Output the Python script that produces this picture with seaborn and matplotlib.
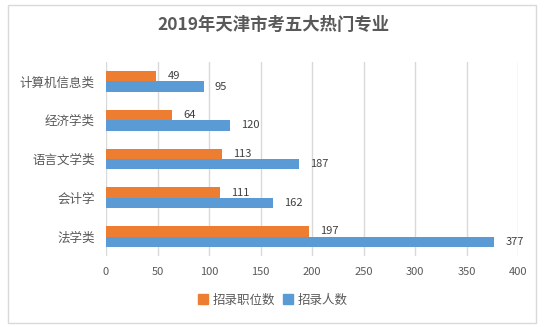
import matplotlib
matplotlib.use("Agg")
import matplotlib.pyplot as plt
import matplotlib.patches as mpatches
import pandas as pd
import seaborn as sns

categories = ["计算机信息类", "经济学类", "语言文学类", "会计学", "法学类"]
positions = [49, 64, 113, 111, 197]     # 招录职位数
recruits = [95, 120, 187, 162, 377]     # 招录人数
series_names = ["招录职位数", "招录人数"]
x_ticks = [0, 50, 100, 150, 200, 250, 300, 350, 400]
title = "2019年天津市考五大热门专业"

ORANGE = "#ED7D31"
BLUE = "#5B9BD5"
TEXT = "#595959"
GRID = "#D9D9D9"

df = pd.DataFrame({
    "category": categories * 2,
    "series": [series_names[0]] * len(categories) + [series_names[1]] * len(categories),
    "value": positions + recruits,
})

sns.set_theme(style="white")
plt.rcParams["font.family"] = ["Noto Sans CJK SC", "DejaVu Sans"]

fig = plt.figure(figsize=(5.46, 3.27), dpi=100)
ax = fig.add_axes([106 / 546, 1 - 256 / 327, 412 / 546, 194 / 327])

sns.barplot(data=df, y="category", x="value", hue="series", order=categories,
            hue_order=series_names, palette=[ORANGE, BLUE], orient="h",
            width=0.54, saturation=1, linewidth=0, ax=ax, legend=False)

for cont in ax.containers:
    ax.bar_label(cont, padding=8, fontsize=8, color="#404040")

ax.set_xlim(0, 400)
ax.set_ylim(4.5, -0.5)
ax.set_xticks(x_ticks)
ax.set_xticklabels([str(t) for t in x_ticks], fontsize=8, color=TEXT)
ax.tick_params(axis="y", labelsize=9, labelcolor=TEXT, length=0, pad=8)
ax.tick_params(axis="x", length=0, pad=8)
ax.xaxis.grid(True, color=GRID, linewidth=1)
ax.set_axisbelow(True)
for s in ax.spines.values():
    s.set_visible(False)
ax.set_xlabel("")
ax.set_ylabel("")

fig.text(0.5, 1 - 25 / 327, title, ha="center", va="center",
         fontsize=12.5, fontweight="bold", color=TEXT)

handles = [mpatches.Patch(color=ORANGE, label=series_names[0]),
           mpatches.Patch(color=BLUE, label=series_names[1])]
fig.legend(handles=handles, loc="center", bbox_to_anchor=(0.5, 1 - 300 / 327),
           ncol=2, frameon=False, fontsize=9, labelcolor=TEXT,
           handlelength=0.8, handleheight=0.8, handletextpad=0.4, columnspacing=0.6)

fig.patches.append(mpatches.Rectangle((8 / 546, 1 - 323 / 327), 528 / 546, 318 / 327,
                                      transform=fig.transFigure, fill=False,
                                      edgecolor="#D9D9D9", linewidth=1))

fig.savefig("out.png", dpi=100)
